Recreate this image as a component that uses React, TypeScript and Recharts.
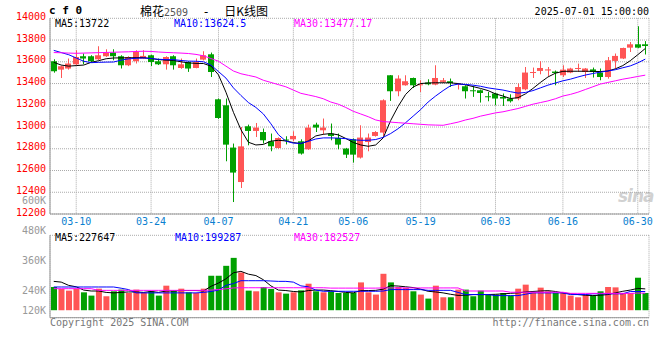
import { Bar, CartesianGrid, Cell, ComposedChart, Line, XAxis, YAxis } from "recharts";

const MONO = '"DejaVu Sans Mono", "Liberation Mono", monospace';
const CJK = '"Noto Sans CJK SC", "Noto Sans", sans-serif';
const RED = "#ff5555";
const GREEN = "#00a000";
const FRAME = "#999999";
const GRID = "#aaaaaa";

const dates = [
  "03-05", "03-06", "03-07", "03-10", "03-11", "03-12", "03-13", "03-14", "03-17", "03-18",
  "03-19", "03-20", "03-21", "03-24", "03-25", "03-26", "03-27", "03-28", "03-31", "04-01",
  "04-02", "04-03", "04-07", "04-08", "04-09", "04-10", "04-11", "04-14", "04-15", "04-16",
  "04-17", "04-18", "04-21", "04-22", "04-23", "04-24", "04-25", "04-28", "04-29", "04-30",
  "05-06", "05-07", "05-08", "05-09", "05-12", "05-13", "05-14", "05-15", "05-16", "05-19",
  "05-20", "05-21", "05-22", "05-23", "05-26", "05-27", "05-28", "05-29", "05-30", "06-03",
  "06-04", "06-05", "06-06", "06-09", "06-10", "06-11", "06-12", "06-13", "06-16", "06-17",
  "06-18", "06-19", "06-20", "06-23", "06-24", "06-25", "06-26", "06-27", "06-30", "07-01",
];

const opens = [
  13605, 13528, 13538, 13577, 13651, 13651, 13623, 13651, 13685, 13651,
  13568, 13605, 13630, 13660, 13605, 13577, 13651, 13543, 13598, 13543,
  13620, 13669, 13255, 13200, 12811, 12494, 13007, 12964, 12954, 12869,
  12807, 12885, 12887, 12869, 12795, 13022, 12970, 12940, 12899, 12802,
  12887, 12719, 12862, 12918, 12949, 13476, 13329, 13384, 13451, 13384,
  13409, 13390, 13415, 13421, 13393, 13375, 13338, 13338, 13283, 13308,
  13276, 13262, 13262, 13347, 13497, 13516, 13520, 13510, 13476, 13501,
  13535, 13506, 13530, 13501, 13460, 13608, 13630, 13730, 13761, 13761,
];
const closes = [
  13513, 13559, 13584, 13644, 13630, 13605, 13660, 13685, 13651, 13568,
  13644, 13690, 13654, 13598, 13577, 13644, 13568, 13577, 13538, 13598,
  13660, 13506, 13083, 12838, 12581, 12822, 12964, 12995, 12878, 12823,
  12899, 12875, 12918, 12756, 12995, 12995, 12995, 12918, 12838, 12746,
  12746, 12903, 12903, 12954, 13246, 13329, 13446, 13421, 13384, 13393,
  13393, 13451, 13430, 13405, 13400, 13329, 13329, 13313, 13274, 13262,
  13262, 13237, 13368, 13501, 13506, 13543, 13530, 13497, 13528, 13538,
  13543, 13538, 13506, 13460, 13614, 13654, 13727, 13761, 13730, 13745,
];
const highs = [
  13623, 13565, 13630, 13706, 13676, 13660, 13743, 13715, 13715, 13660,
  13651, 13706, 13706, 13665, 13630, 13651, 13660, 13630, 13605, 13630,
  13697, 13685, 13262, 13262, 12848, 13000, 13022, 13037, 12986, 12940,
  12905, 12915, 12961, 12887, 13022, 13040, 13078, 13032, 12940, 12808,
  12895, 13016, 12940, 12962, 13255, 13478, 13476, 13476, 13455, 13430,
  13439, 13568, 13451, 13446, 13405, 13384, 13375, 13345, 13322, 13315,
  13308, 13301, 13400, 13552, 13547, 13605, 13552, 13520, 13568, 13545,
  13583, 13543, 13547, 13538, 13644, 13676, 13730, 13782, 13927, 13790,
];
const lows = [
  13500, 13451, 13528, 13568, 13577, 13598, 13615, 13645, 13614, 13538,
  13560, 13584, 13625, 13561, 13570, 13528, 13528, 13535, 13507, 13540,
  13612, 13460, 13075, 12685, 12310, 12439, 12832, 12908, 12848, 12777,
  12800, 12840, 12869, 12746, 12790, 12954, 12930, 12878, 12795, 12715,
  12673, 12710, 12777, 12912, 12918, 13240, 13283, 13380, 13359, 13322,
  13384, 13384, 13405, 13368, 13345, 13262, 13277, 13225, 13237, 13200,
  13194, 13225, 13246, 13338, 13451, 13485, 13470, 13384, 13460, 13495,
  13510, 13451, 13455, 13430, 13445, 13538, 13625, 13690, 13725, 13667,
];

// moving averages
const ma5 = [
  13595, 13570, 13560, 13565, 13570, 13595, 13610, 13628, 13635, 13636,
  13637, 13638, 13638, 13630, 13620, 13615, 13612, 13600, 13590, 13585,
  13584, 13560, 13480, 13320, 13135, 12975, 12860, 12835, 12840, 12870,
  12878, 12872, 12857, 12847, 12872, 12918, 12933, 12940, 12928, 12895,
  12858, 12835, 12823, 12835, 12900, 13060, 13190, 13300, 13368, 13400,
  13405, 13407, 13407, 13406, 13400, 13388, 13372, 13355, 13335, 13305,
  13285, 13262, 13270, 13305, 13355, 13410, 13460, 13495, 13512, 13513,
  13513, 13513, 13512, 13510, 13515, 13535, 13565, 13610, 13665, 13722,
];
const ma10 = [
  13705, 13685, 13665, 13635, 13605, 13592, 13595, 13597, 13598, 13615,
  13627, 13632, 13635, 13630, 13623, 13620, 13620, 13612, 13606, 13605,
  13600, 13570, 13510, 13450, 13360, 13290, 13225, 13180, 13120, 13030,
  12930, 12870, 12852, 12850, 12868, 12890, 12900, 12900, 12898, 12893,
  12882, 12878, 12878, 12885, 12905, 12940, 12985, 13040, 13100, 13160,
  13230, 13285, 13335, 13380, 13395, 13392, 13385, 13375, 13360, 13350,
  13340, 13325, 13312, 13318, 13335, 13360, 13385, 13405, 13425, 13440,
  13460, 13478, 13492, 13505, 13515, 13527, 13545, 13562, 13590, 13624.5,
];
const ma30 = [
  13685, 13683, 13680, 13678, 13680, 13682, 13684, 13686, 13688, 13690,
  13692, 13695, 13697, 13695, 13690, 13686, 13683, 13680, 13676, 13668,
  13655, 13630, 13605, 13560, 13515, 13490, 13475, 13460, 13430, 13410,
  13390, 13370, 13340, 13310, 13295, 13280, 13260, 13230, 13210, 13180,
  13145, 13120, 13095, 13065, 13050, 13045, 13040, 13035, 13030, 13025,
  13020, 13018, 13016, 13030, 13045, 13065, 13080, 13100, 13115, 13130,
  13140, 13155, 13170, 13190, 13210, 13225, 13240, 13260, 13285, 13300,
  13320, 13345, 13370, 13395, 13410, 13425, 13440, 13452, 13465, 13477.17,
];

// volume, in thousands of lots
const volumes = [
  248, 227, 209, 230, 191, 156, 230, 149, 202, 220,
  184, 220, 184, 202, 156, 262, 209, 230, 191, 184,
  230, 368, 368, 474, 559, 403, 209, 202, 248, 227,
  191, 177, 191, 212, 283, 202, 191, 202, 184, 184,
  184, 297, 191, 167, 389, 297, 248, 238, 202, 167,
  124, 262, 138, 138, 220, 220, 149, 209, 167, 167,
  184, 156, 230, 273, 191, 241, 202, 184, 184, 156,
  138, 167, 156, 202, 248, 244, 184, 184, 347, 184,
];
const volMa5 = [
  308, 300, 265, 250, 215, 205, 205, 190, 185, 190,
  195, 195, 190, 200, 190, 205, 205, 210, 210, 210,
  205, 255, 290, 335, 400, 415, 385, 370, 325, 260,
  215, 210, 200, 195, 210, 215, 215, 209, 200, 190,
  185, 209, 210, 212, 225, 262, 258, 250, 242, 225,
  202, 195, 185, 170, 158, 160, 167, 167, 167, 170,
  175, 180, 185, 195, 200, 205, 209, 200, 185, 175,
  167, 160, 156, 160, 167, 185, 202, 215, 233, 227.647,
];
const volMa10 = [
  248, 248, 248, 248, 248, 248, 248, 248, 248, 235,
  220, 185, 185, 185, 185, 185, 185, 185, 185, 185,
  190, 200, 215, 265, 285, 315, 315, 315, 315, 312,
  308, 308, 300, 260, 250, 215, 202, 202, 202, 202,
  202, 202, 202, 202, 205, 220, 220, 220, 220, 220,
  212, 212, 212, 212, 190, 167, 167, 167, 167, 156,
  156, 156, 156, 170, 185, 185, 185, 185, 185, 167,
  167, 167, 175, 175, 175, 175, 175, 200, 200, 199.287,
];
const volMa30 = [
  230, 230, 230, 230, 230, 230, 212, 212, 212, 212,
  212, 212, 212, 212, 212, 212, 212, 212, 212, 212,
  212, 215, 220, 228, 238, 240, 240, 240, 240, 240,
  240, 240, 240, 240, 240, 240, 240, 236, 236, 236,
  236, 236, 236, 236, 238, 238, 238, 238, 238, 238,
  238, 238, 238, 238, 238, 205, 205, 205, 205, 205,
  205, 192, 192, 192, 192, 192, 192, 192, 192, 180,
  180, 180, 180, 180, 180, 180, 180, 180, 183, 182.527,
];

const dateTicks = ["03-10", "03-24", "04-07", "04-21", "05-06", "05-19", "06-03", "06-16", "06-30"];
const priceTicks = [12200, 12400, 12600, 12800, 13000, 13200, 13400, 13600, 13800, 14000];
const volumeGridTicks = [140000, 360000, 580000];
const volumeLabels = ["600K", "480K", "360K", "240K", "120K"];

const rows = dates.map((date, i) => ({
  date,
  open: opens[i],
  close: closes[i],
  high: highs[i],
  low: lows[i],
  range: [lows[i], highs[i]],
  ma5: ma5[i],
  ma10: ma10[i],
  ma30: ma30[i],
  volume: volumes[i] * 1000,
  vma5: volMa5[i] * 1000,
  vma10: volMa10[i] * 1000,
  vma30: volMa30[i] * 1000,
}));

function Candle(props: any) {
  const { x, y, width, height, payload } = props;
  if (x == null || y == null) return null;
  const { open, close, high, low } = payload;
  const color = close >= open ? RED : GREEN;
  const top = Math.min(y, y + height);
  const span = Math.abs(height);
  const toY = (v: number) => top + ((high - v) / (high - low || 1)) * span;
  const cx = Math.floor(x + width / 2) + 0.5;
  const bodyTop = toY(Math.max(open, close));
  const bodyBottom = toY(Math.min(open, close));
  return (
    <g>
      <line x1={cx} x2={cx} y1={top} y2={top + span} stroke={color} strokeWidth={1} />
      <rect x={Math.floor(x)} y={bodyTop} width={width} height={Math.max(bodyBottom - bodyTop, 1)} fill={color} />
    </g>
  );
}

const PriceTick = (p: any) => (
  <text x={p.x} y={p.y - 2} textAnchor="end" dominantBaseline="central" fill="#ff0000" fontSize={10} fontFamily={MONO}>
    {p.payload.value}
  </text>
);

const DateTick = (p: any) => (
  <text x={p.x} y={p.y} textAnchor="middle" dominantBaseline="central" fill="#0a7fd0" fontSize={10} fontFamily={MONO}>
    {p.payload.value}
  </text>
);

function Label({ x, y, color, children, right, size = 10, style }: any) {
  return (
    <div
      style={{
        position: "absolute",
        top: y - 7,
        lineHeight: "14px",
        height: 14,
        whiteSpace: "pre",
        color,
        fontSize: size,
        fontFamily: MONO,
        ...(right ? { right: 660 - x, textAlign: "right" } : { left: x }),
        ...style,
      }}
    >
      {children}
    </div>
  );
}

export default function App() {
  return (
    <div style={{ position: "absolute", left: 0, top: 0, width: 660, height: 360, background: "#fff", overflow: "hidden" }}>
      <div style={{ position: "absolute", left: 0, top: 0 }}>
        <ComposedChart width={660} height={232} data={rows} margin={{ top: 18.3, right: 11, bottom: 0, left: 0 }} barSize={6}>
          <CartesianGrid stroke={GRID} strokeDasharray="1 1" />
          <XAxis
            dataKey="date"
            ticks={dateTicks}
            interval={0}
            height={18}
            tickSize={0}
            tickMargin={7.5}
            tickLine={false}
            axisLine={{ stroke: FRAME }}
            tick={<DateTick />}
          />
          <YAxis
            domain={[12200, 14000]}
            ticks={priceTicks}
            interval={0}
            width={50}
            tickSize={0}
            tickMargin={4}
            tickLine={false}
            axisLine={{ stroke: FRAME }}
            tick={<PriceTick />}
            allowDataOverflow
          />
          <YAxis yAxisId="frame" orientation="right" width={0} tick={false} tickLine={false} axisLine={{ stroke: FRAME }} />
          <Bar dataKey="range" shape={<Candle />} isAnimationActive={false} />
          <Line dataKey="ma5" stroke="#000000" strokeWidth={1} dot={false} activeDot={false} isAnimationActive={false} />
          <Line dataKey="ma10" stroke="#0000ff" strokeWidth={1} dot={false} activeDot={false} isAnimationActive={false} />
          <Line dataKey="ma30" stroke="#ff00ff" strokeWidth={1} dot={false} activeDot={false} isAnimationActive={false} />
        </ComposedChart>
      </div>

      <div style={{ position: "absolute", left: 0, top: 228 }}>
        <ComposedChart width={660} height={100} data={rows} margin={{ top: 7.3, right: 11, bottom: 0, left: 0 }} barSize={6}>
          <CartesianGrid stroke={GRID} strokeDasharray="1 1" />
          <XAxis dataKey="date" ticks={dateTicks} interval={0} height={10.3} tick={false} tickLine={false} axisLine={{ stroke: FRAME }} />
          <XAxis xAxisId="top" orientation="top" dataKey="date" height={0} tick={false} tickLine={false} axisLine={{ stroke: FRAME }} />
          <YAxis
            domain={[-80000, 800000]}
            ticks={volumeGridTicks}
            interval={0}
            width={50}
            tick={false}
            tickLine={false}
            axisLine={{ stroke: FRAME }}
          />
          <YAxis yAxisId="frame" orientation="right" width={0} tick={false} tickLine={false} axisLine={{ stroke: FRAME }} />
          <Bar dataKey="volume" isAnimationActive={false}>
            {rows.map((r) => (
              <Cell key={r.date} fill={r.close >= r.open ? RED : GREEN} />
            ))}
          </Bar>
          <Line dataKey="vma5" stroke="#000000" strokeWidth={1} dot={false} activeDot={false} isAnimationActive={false} />
          <Line dataKey="vma10" stroke="#0000ff" strokeWidth={1} dot={false} activeDot={false} isAnimationActive={false} />
          <Line dataKey="vma30" stroke="#ff00ff" strokeWidth={1} dot={false} activeDot={false} isAnimationActive={false} />
        </ComposedChart>
      </div>

      <Label x={49} y={11} color="#000" size={11} style={{ fontWeight: "bold" }}>c f 0</Label>
      <div style={{ position: "absolute", left: 140, top: 3, lineHeight: "16px", whiteSpace: "pre", fontFamily: CJK, fontSize: 12, color: "#000" }}>
        棉花<span style={{ fontFamily: MONO, fontSize: 10, color: "#555" }}>2509</span>
        <span style={{ fontFamily: MONO }}>{"  -  "}</span>日K线图
      </div>
      <Label x={649} y={12} color="#000" right>2025-07-01 15:00:00</Label>

      <Label x={55} y={24} color="#000">MA5:13722</Label>
      <Label x={174} y={24} color="#0000ff">MA10:13624.5</Label>
      <Label x={294} y={24} color="#ff00ff">MA30:13477.17</Label>

      <Label x={55} y={238} color="#000">MA5:227647</Label>
      <Label x={175} y={238} color="#0000ff">MA10:199287</Label>
      <Label x={294} y={238} color="#ff00ff">MA30:182527</Label>

      {volumeLabels.map((t, i) => (
        <Label key={t} x={46} y={[200.7, 230.5, 260.5, 290.5, 310.5][i]} color="#999" right>
          {t}
        </Label>
      ))}

      <Label x={50} y={323} color="#777">Copyright 2025 SINA.COM</Label>
      <Label x={649} y={323} color="#777" right>http://finance.sina.com.cn</Label>

      <div
        style={{
          position: "absolute",
          left: 618,
          top: 186,
          fontFamily: '"DejaVu Sans", sans-serif',
          fontStyle: "italic",
          fontWeight: "bold",
          fontSize: 17,
          color: "rgba(170,170,170,0.55)",
          letterSpacing: -1,
        }}
      >
        sina
      </div>
    </div>
  );
}
